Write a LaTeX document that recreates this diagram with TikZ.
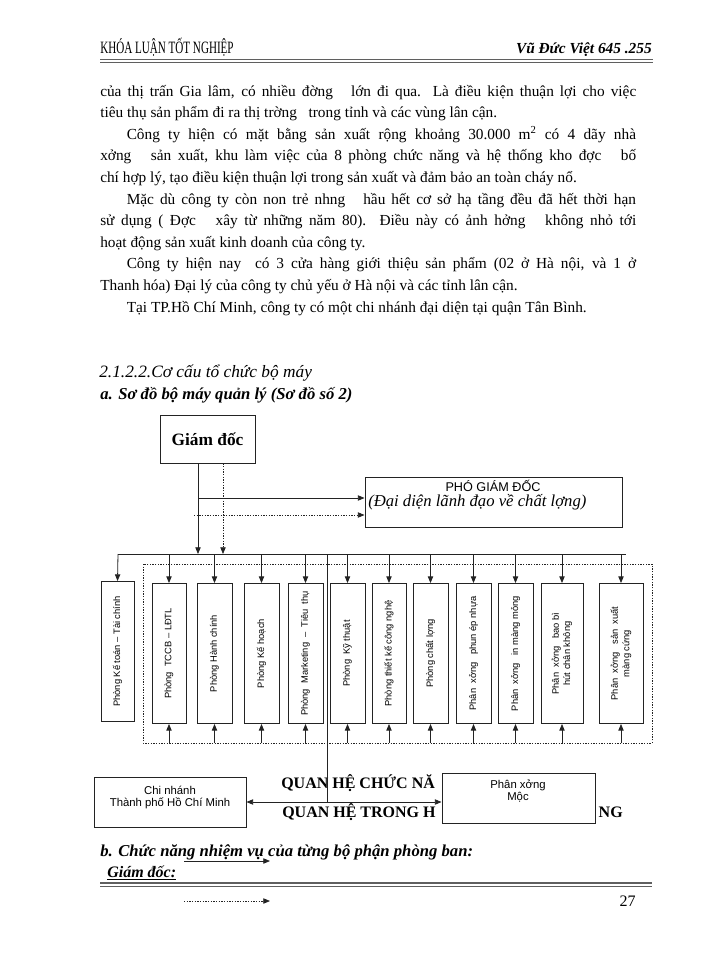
\documentclass[tikz,border=0pt]{standalone}
\usepackage{fontspec}
\setmainfont{Liberation Serif}
\setsansfont{Liberation Sans}
\usepackage{graphicx}
\usetikzlibrary{arrows.meta, calc, positioning}
\newdimen\pxu \pxu=0.75pt
\definecolor{inkgray}{RGB}{35,35,35}
\definecolor{rulegray}{RGB}{95,95,95}
\newcommand{\bodyline}[1]{\makebox[402pt][s]{#1}}
\newcommand{\indline}[1]{\makebox[382pt][s]{#1}}
\tikzset{
    % page text
    bodytext/.style={anchor=base west, inner sep=0pt, font=\fontsize{11.5}{13}\selectfont},
    % boxes of the chart
    plainbox/.style={draw=inkgray, fill=white, line width=0.7pt, inner sep=0pt},
    gdbox/.style={plainbox, minimum width=95\pxu, minimum height=48\pxu, font=\fontsize{13}{15}\selectfont\bfseries},
    dept/.style={plainbox, rotate=90, minimum width=140\pxu, minimum height=35\pxu, align=center,
                 font=\sffamily\fontsize{7}{8.5}\selectfont},
    boxlabel/.style={inner sep=0pt, align=center, font=\sffamily\fontsize{8.5}{8.5}\selectfont},
    legendtext/.style={anchor=base west, inner sep=0pt, font=\fontsize{12}{14}\selectfont\bfseries},
    % connectors
    ln/.style={draw=inkgray, line width=0.6pt},
    arr/.style={ln, -{Triangle[length=5pt, width=4pt]}},
    darr/.style={arr, dash pattern=on 1pt off 1pt},
    dotline/.style={draw=inkgray, line width=0.6pt, dash pattern=on 1pt off 1pt},
}

\begin{document}
\begin{tikzpicture}[x=0.75pt, y=-0.75pt]
\useasboundingbox[fill=white] (0,0) rectangle (700,960);

% ============================================================
% Running head
% ============================================================
\node[anchor=base west, inner sep=0pt] (hdrL) at (100,53)
    {\scalebox{0.64}[1]{\fontsize{13}{15}\selectfont KHÓA LUẬN TỐT NGHIỆP}};
\node[anchor=base east, inner sep=0pt, font=\fontsize{11.5}{13}\selectfont\bfseries\itshape] (hdrR) at (652,53)
    {Vũ Đức Việt 645 .255};
\draw[rulegray, line width=1pt] (100,59.5) -- (653,59.5);
\draw[rulegray, line width=0.6pt] (100,62.5) -- (653,62.5);

% ============================================================
% Body text
% ============================================================
\node[bodytext] (l1) at (100,96) {\bodyline{của thị trấn Gia lâm, có nhiều đờng \ \ lớn đi qua. Là điều kiện thuận lợi cho việc}};
\node[bodytext] (l2) at (100,117.6) {tiêu thụ sản phẩm đi ra thị trờng \ \ trong tỉnh và các vùng lân cận.};
\node[bodytext] (l3) at (126.5,139.2) {\indline{Công ty hiện có mặt bằng sản xuất rộng khoảng 30.000 m\textsuperscript{2} có 4 dãy nhà}};
\node[bodytext] (l4) at (100,160.8) {\bodyline{xởng \ \ sản xuất, khu làm việc của 8 phòng chức năng và hệ thống kho đợc \ \ bố}};
\node[bodytext] (l5) at (100,182.4) {chí hợp lý, tạo điều kiện thuận lợi trong sản xuất và đảm bảo an toàn cháy nổ.};
\node[bodytext] (l6) at (126.5,204) {\indline{Mặc dù công ty còn non trẻ nhng \ \ hầu hết cơ sở hạ tầng đều đã hết thời hạn}};
\node[bodytext] (l7) at (100,225.6) {\bodyline{sử dụng ( Đợc \ \ xây từ những năm 80). Điều này có ảnh hởng \ \ không nhỏ tới}};
\node[bodytext] (l8) at (100,247.2) {hoạt động sản xuất kinh doanh của công ty.};
\node[bodytext] (l9) at (126.5,268.8) {\indline{Công ty hiện nay \ có 3 cửa hàng giới thiệu sản phẩm (02 ở Hà nội, và 1 ở}};
\node[bodytext] (l10) at (100,290.4) {Thanh hóa) Đại lý của công ty chủ yếu ở Hà nội và các tỉnh lân cận.};
\node[bodytext] (l11) at (126.5,312) {Tại TP.Hồ Chí Minh, công ty có một chi nhánh đại diện tại quận Tân Bình.};

\node[bodytext, font=\fontsize{13}{15}\selectfont\itshape] (sec) at (99,377) {2.1.2.2.Cơ cấu tổ chức bộ máy};
\node[bodytext, font=\fontsize{12.5}{15}\selectfont\bfseries\itshape] (suba) at (100,399) {a. Sơ đồ bộ máy quản lý (Sơ đồ số 2)};

% ============================================================
% Chart: director and deputy
% ============================================================
\node[gdbox] (gd) at (207.5,439) {Giám đốc};

\node[plainbox, minimum width=257\pxu, minimum height=50\pxu] (pgd) at (493.5,502) {};
\node[inner sep=0pt, font=\sffamily\fontsize{9.5}{11}\selectfont] (pgdT) at (493,486) {PHÓ GIÁM ĐỐC};
\node[anchor=west, inner sep=0pt, font=\fontsize{12.5}{14}\selectfont\itshape] (pgdS) at (368,502.5) {(Đại diện lãnh đạo về chất lợng)};

\coordinate (trunk) at (198,554);
\coordinate (dtrunk) at (223,554);
\coordinate (j1) at (198,498);
\coordinate (j2) at (194,515);
\draw[arr] (gd.south -| trunk) -- (trunk);
\draw[darr] (gd.south -| dtrunk) -- (dtrunk);
\draw[arr] (j1) -- (j1 -| pgd.west);
\draw[darr] (j2) -- (j2 -| pgd.west);

% ============================================================
% Chart: departments and workshops
% ============================================================
\node[dept, minimum height=33\pxu] (k1) at (117.5,651.5) {Phòng Kế toán -- Tài chính};
\node[dept, minimum height=34\pxu] (k2) at (169,653.5) {Phòng \ TCCB -- LĐTL};
\node[dept] (k3) at (214.5,653.5) {Phòng Hành chính};
\node[dept] (k4) at (261.5,653.5) {Phòng Kế hoạch};
\node[dept] (k5) at (305.5,653.5) {Phòng \ Marketing \ -- \ Tiêu \ thụ};
\node[dept] (k6) at (347.5,653.5) {Phòng \ Kỹ thuật};
\node[dept, minimum height=34\pxu] (k7) at (389,653.5) {Phòng thiết kế công nghệ};
\node[dept] (k8) at (430.5,653.5) {Phòng chất lợng};
\node[dept] (k9) at (473.5,653.5) {Phân \ xởng \ \ phun ép nhựa};
\node[dept] (k10) at (515.5,653.5) {Phân \ xởng \ \ in màng mỏng};
\node[dept, minimum height=42\pxu] (k11) at (562,653.5) {Phân \ xởng \ \ bao bì\\hút chân không};
\node[dept, minimum height=44\pxu] (k12) at (621,653.5) {Phân \ xởng \ \ sản \ xuất\\màng cứng};

\coordinate (busL) at (118,554);
\coordinate (busR) at (626,554);
\coordinate (frameB) at (0,743);
\draw[ln] (busL) -- (busR);
\draw[arr] (busL) -- (k1.east);
\draw[dotline] (143,564) rectangle (652,743);
\foreach \k in {2,...,12} {
    \draw[arr] (k\k.east |- busL) -- (k\k.east);
    \draw[arr] (k\k.west |- frameB) -- (k\k.west);
}

% ============================================================
% Chart: branch, wood workshop and legend
% ============================================================
\node[legendtext] (lgd1) at (281,788) {QUAN HỆ CHỨC NĂ};
\node[legendtext] (lgd2) at (282,817) {QUAN HỆ TRONG H};
\node[legendtext, anchor=base east] (lgd3) at (623,817) {NG};

\node[plainbox, minimum width=152\pxu, minimum height=50\pxu] (cn) at (170,802) {};
\node[boxlabel] (cnT) at (170,797.5) {Chi nhánh\\Thành phố Hồ Chí Minh};
\node[plainbox, minimum width=153\pxu, minimum height=50\pxu] (pxm) at (518.5,798) {};
\node[boxlabel, font=\sffamily\fontsize{8.5}{7.5}\selectfont] (pxmT) at (518,791.5) {Phân xởng\\Mộc};

\coordinate (mid) at (327,802);
\draw[ln] (mid |- busL) -- (mid);
\draw[arr] (mid) -- (mid -| cn.east);
\draw[arr] (mid) -- (mid -| pxm.west);

% ============================================================
% Section b and page foot
% ============================================================
\node[bodytext, font=\fontsize{12.5}{15}\selectfont\bfseries\itshape] (subb) at (100,856) {b. Chức năng nhiệm vụ của từng bộ phận phòng ban:};
\node[bodytext, font=\fontsize{12}{14}\selectfont\bfseries\itshape] (gdh) at (107,877) {\underline{Giám đốc:}};
\coordinate (lgA) at (184,861);
\coordinate (lgB) at (270,861);
\draw[arr] (lgA) -- (lgB);

\draw[rulegray, line width=1pt] (100,883) -- (652,883);
\draw[rulegray, line width=0.6pt] (100,886) -- (652,886);

\coordinate (lgC) at (184,901);
\coordinate (lgD) at (270,901);
\draw[darr] (lgC) -- (lgD);
\node[bodytext, anchor=base east, font=\fontsize{12}{14}\selectfont] (pageno) at (636,906) {27};

\end{tikzpicture}
\end{document}
